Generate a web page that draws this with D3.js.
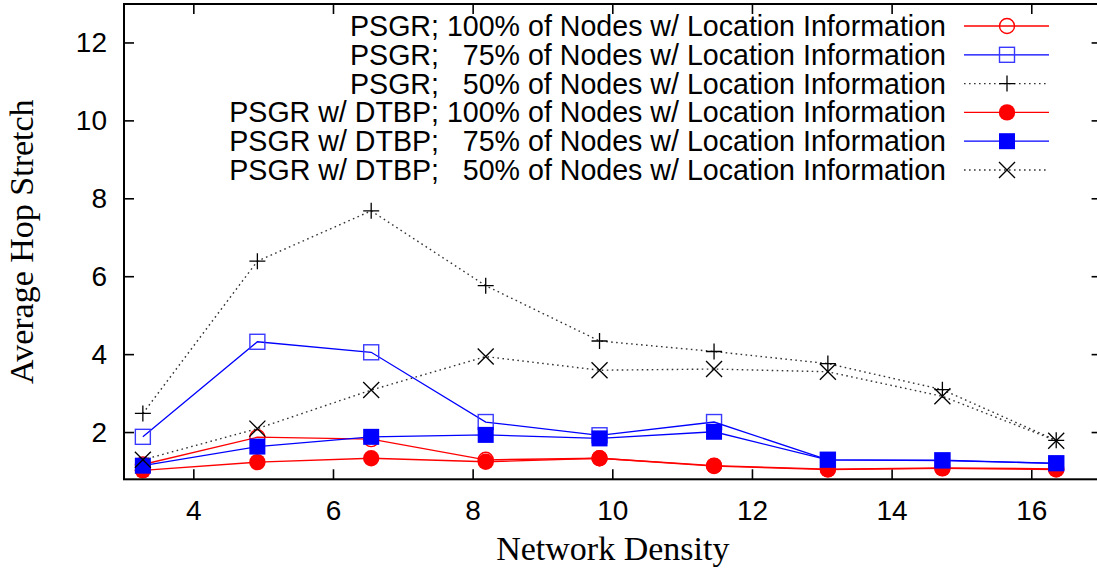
<!DOCTYPE html>
<html>
<head>
<meta charset="utf-8">
<script src="https://cdn.jsdelivr.net/npm/d3@7"></script>
<style>
  html, body { margin: 0; padding: 0; background: #fff; }
  svg { display: block; }
  .tick-label { font-family: "Liberation Sans", Arial, sans-serif; font-size: 28px; fill: #000; }
  .legend-label { font-family: "Liberation Sans", Arial, sans-serif; font-size: 28.6px; fill: #000; white-space: pre; }
  .axis-title { font-family: "Liberation Serif", "Times New Roman", serif; font-size: 34px; fill: #000; }
</style>
</head>
<body>
<svg id="chart" width="1097" height="569"></svg>
<script>
// Network density values (x) shared by every series
const density = [3.27, 4.91, 6.54, 8.18, 9.81, 11.45, 13.08, 14.72, 16.35];

// Average hop stretch per series
const psgr100     = [1.18, 1.88, 1.83, 1.30, 1.34, 1.15, 1.06, 1.09, 1.07];
const psgr75      = [1.89, 4.33, 4.06, 2.27, 1.93, 2.27, 1.30, 1.29, 1.21];
const psgr50      = [2.49, 6.40, 7.69, 5.77, 4.35, 4.08, 3.77, 3.10, 1.80];
const dtbp100     = [1.03, 1.24, 1.34, 1.25, 1.34, 1.14, 1.05, 1.08, 1.05];
const dtbp75      = [1.15, 1.64, 1.89, 1.94, 1.85, 2.02, 1.30, 1.28, 1.21];
const dtbp50      = [1.30, 2.10, 3.09, 3.95, 3.60, 3.63, 3.56, 2.93, 1.79];

// Legend labels (spaces keep the percentages right-aligned)
const seriesLabels = [
  "PSGR; 100% of Nodes w/ Location Information",
  "PSGR;   75% of Nodes w/ Location Information",
  "PSGR;   50% of Nodes w/ Location Information",
  "PSGR w/ DTBP; 100% of Nodes w/ Location Information",
  "PSGR w/ DTBP;   75% of Nodes w/ Location Information",
  "PSGR w/ DTBP;   50% of Nodes w/ Location Information"
];

// Axis ticks and titles
const xTicks = [4, 6, 8, 10, 12, 14, 16];
const yTicks = [2, 4, 6, 8, 10, 12];
const xTitle = "Network Density";
const yTitle = "Average Hop Stretch";

const series = [
  { values: psgr100, label: seriesLabels[0], color: "#ff0000", dash: null, marker: "circleOpen" },
  { values: psgr75,  label: seriesLabels[1], color: "#0000ff", dash: null, marker: "squareOpen" },
  { values: psgr50,  label: seriesLabels[2], color: "#333333", dash: "1.6,3.4", marker: "plus" },
  { values: dtbp100, label: seriesLabels[3], color: "#ff0000", dash: null, marker: "circleFilled" },
  { values: dtbp75,  label: seriesLabels[4], color: "#0000ff", dash: null, marker: "squareFilled" },
  { values: dtbp50,  label: seriesLabels[5], color: "#333333", dash: "1.6,3.4", marker: "cross" }
];

const svg = d3.select("#chart");
const plot = { left: 124, right: 1101.6, top: 4, bottom: 479.3 };

const x = d3.scaleLinear().domain([3, 17]).range([plot.left, plot.right]);
const y = d3.scaleLinear().domain([0.8, 13]).range([plot.bottom, plot.top]);

// Marker painter
function drawMarker(g, kind, cx, cy, color) {
  const h = 8;
  if (kind === "circleOpen") {
    g.append("circle").attr("cx", cx).attr("cy", cy).attr("r", 7.5)
      .attr("fill", "none").attr("stroke", color).attr("stroke-width", 1.4);
  } else if (kind === "circleFilled") {
    g.append("circle").attr("cx", cx).attr("cy", cy).attr("r", 8.2)
      .attr("fill", color);
  } else if (kind === "squareOpen") {
    g.append("rect").attr("x", cx - 7.5).attr("y", cy - 7.5).attr("width", 15).attr("height", 15)
      .attr("fill", "none").attr("stroke", "#3a3aff").attr("stroke-width", 1.4);
  } else if (kind === "squareFilled") {
    g.append("rect").attr("x", cx - h).attr("y", cy - h).attr("width", 2 * h).attr("height", 2 * h)
      .attr("fill", color);
  } else if (kind === "plus") {
    g.append("path").attr("d", `M${cx - h},${cy}H${cx + h}M${cx},${cy - h}V${cy + h}`)
      .attr("stroke", "#000").attr("stroke-width", 1.3).attr("fill", "none");
  } else if (kind === "cross") {
    g.append("path").attr("d", `M${cx - h},${cy - h}L${cx + h},${cy + h}M${cx - h},${cy + h}L${cx + h},${cy - h}`)
      .attr("stroke", "#000").attr("stroke-width", 1.3).attr("fill", "none");
  }
}

// Tick marks (inward, mirrored on all four sides)
const tickLen = 10;
const ticks = svg.append("g").attr("stroke", "#000").attr("stroke-width", 1.6);
xTicks.forEach(t => {
  ticks.append("line").attr("x1", x(t)).attr("x2", x(t)).attr("y1", plot.bottom).attr("y2", plot.bottom - tickLen);
  ticks.append("line").attr("x1", x(t)).attr("x2", x(t)).attr("y1", plot.top).attr("y2", plot.top + tickLen);
});
yTicks.forEach(t => {
  ticks.append("line").attr("x1", plot.left).attr("x2", plot.left + tickLen).attr("y1", y(t)).attr("y2", y(t));
  ticks.append("line").attr("x1", plot.right).attr("x2", plot.right - tickLen).attr("y1", y(t)).attr("y2", y(t));
});

// Tick labels
svg.append("g").selectAll("text").data(xTicks).join("text")
  .attr("class", "tick-label").attr("text-anchor", "middle")
  .attr("x", d => x(d)).attr("y", 520).text(d => d);
svg.append("g").selectAll("text").data(yTicks).join("text")
  .attr("class", "tick-label").attr("text-anchor", "end").attr("dominant-baseline", "central")
  .attr("x", 107).attr("y", d => y(d)).text(d => d);

// Axis titles
svg.append("text").attr("class", "axis-title").attr("text-anchor", "middle")
  .attr("x", (plot.left + plot.right) / 2).attr("y", 560).text(xTitle);
svg.append("text").attr("class", "axis-title").attr("text-anchor", "middle")
  .attr("transform", `translate(33, ${(plot.top + plot.bottom) / 2}) rotate(-90)`).text(yTitle);

// Series lines and markers, in legend order
const line = d3.line().x(d => x(d[0])).y(d => y(d[1]));
const legendX = { textEnd: 946, lineStart: 964, lineEnd: 1049, marker: 1007 };
const legendY0 = 26, legendStep = 28.8;

series.forEach((s, i) => {
  const pts = density.map((d, j) => [d, s.values[j]]);
  const g = svg.append("g");
  g.append("path").datum(pts).attr("d", line)
    .attr("fill", "none").attr("stroke", s.color).attr("stroke-width", s.dash ? 1.4 : 1.3)
    .attr("stroke-dasharray", s.dash);
  pts.forEach(p => drawMarker(g, s.marker, x(p[0]), y(p[1]), s.color));

  // legend entry
  const ly = legendY0 + i * legendStep;
  const lg = svg.append("g");
  lg.append("text").attr("class", "legend-label").attr("text-anchor", "end")
    .attr("dominant-baseline", "central").attr("x", legendX.textEnd).attr("y", ly).text(s.label);
  lg.append("line").attr("x1", legendX.lineStart).attr("x2", legendX.lineEnd).attr("y1", ly).attr("y2", ly)
    .attr("stroke", s.color).attr("stroke-width", s.dash ? 1.4 : 1.3).attr("stroke-dasharray", s.dash);
  drawMarker(lg, s.marker, legendX.marker, ly, s.color);
});

// Plot border
svg.append("rect").attr("x", plot.left).attr("y", plot.top)
  .attr("width", plot.right - plot.left).attr("height", plot.bottom - plot.top)
  .attr("fill", "none").attr("stroke", "#000").attr("stroke-width", 2);
</script>
</body>
</html>
